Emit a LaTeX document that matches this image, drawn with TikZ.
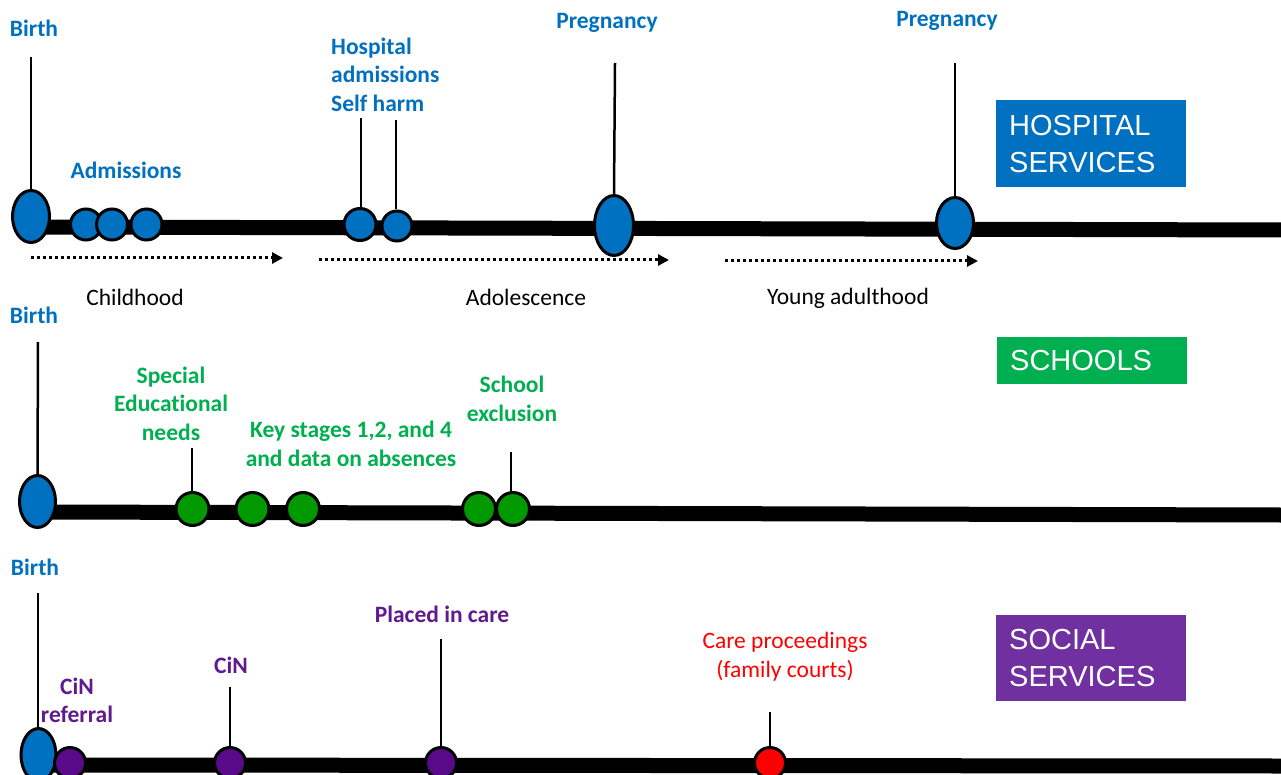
\documentclass[tikz,border=0pt]{standalone}
\usepackage{fontspec}
\setmainfont{Carlito}[Ligatures=NoCommon]
\newfontfamily\arialf{Liberation Sans}
\usetikzlibrary{shapes.geometric,arrows.meta,backgrounds}
\definecolor{hblue}{HTML}{0070C0}
\definecolor{sgreen}{HTML}{00B050}
\definecolor{cgreen}{HTML}{009900}
\definecolor{ptext}{HTML}{5F1A8E}
\definecolor{pfill}{HTML}{580A88}
\definecolor{sbox}{HTML}{7030A0}
\definecolor{cred}{HTML}{FF0000}
\begin{document}
\begin{tikzpicture}[x=1pt,y=-1pt,
 timeline/.style={line width=15pt},
 stem/.style={line width=2.5pt},
 evell/.style={ellipse, draw=black, line width=3pt, fill=hblue, inner sep=0pt},
 evcirc/.style={circle, draw=black, line width=3pt, inner sep=0pt, minimum size=32pt},
 lbl/.style={font=\fontsize{23.5}{28.5}\selectfont\bfseries, inner sep=0pt, align=center},
 phase/.style={font=\fontsize{23.5}{28.5}\selectfont, inner sep=0pt},
 period/.style={line width=3pt, dash pattern=on 3pt off 3pt, -{Triangle[length=11pt,width=11pt]}},
 sbx/.style={rectangle, anchor=north west, inner xsep=13pt, inner ysep=0pt, text width=164pt, minimum width=190pt, align=left, text=white, font=\arialf\fontsize{29}{37}\selectfont}
]
\useasboundingbox (0,0) rectangle (1281,775);

% ---------- Row 1: hospital ----------
\coordinate (tl1a) at (31,227);
\coordinate (tl1b) at (1281,230);
\draw[timeline] (tl1a) -- (tl1b);

\node[evell, minimum width=37pt, minimum height=52pt] (birth1) at (31,216.5) {};
\node[evcirc, fill=hblue, minimum size=31pt] (adm1) at (86,224.5) {};
\node[evcirc, fill=hblue, minimum size=31pt] (adm2) at (112,224.5) {};
\node[evcirc, fill=hblue, minimum size=31pt] (adm3) at (146.5,224.5) {};
\node[evcirc, fill=hblue, minimum size=32pt] (hosp1) at (360,224.5) {};
\node[evcirc, fill=hblue, minimum size=30pt] (hosp2) at (397,226) {};
\node[evell, minimum width=39pt, minimum height=60pt] (preg1) at (614,225.5) {};
\node[evell, minimum width=37pt, minimum height=51pt] (preg2) at (955,223) {};

\coordinate (s1a) at (31,57);
\coordinate (s1b) at (361,118);
\coordinate (s1c) at (396,120);
\coordinate (s1d) at (615,63);
\coordinate (s1e) at (955,63);
\draw[stem] (s1a) -- (birth1.north);
\draw[stem] (s1b) -- (s1b |- hosp1.north);
\draw[stem] (s1c) -- (s1c |- hosp2.north);
\draw[stem] (s1d) -- (preg1.north);
\draw[stem] (s1e) -- (preg2.north);

\node[lbl, text=hblue] (tb1) at (34,28) {Birth};
\node[lbl, text=hblue] (tadm) at (126,170) {Admissions};
\node[lbl, text=hblue, align=left, anchor=west] (thosp) at (331,74.5) {Hospital\\admissions\\Self harm};
\node[lbl, text=hblue] (tpreg1) at (607,23) {Pregnancy};
\node[lbl, text=hblue] (tpreg2) at (947,21) {Pregnancy};

\coordinate (a1s) at (31,258);  \coordinate (a1e) at (283,258);
\coordinate (a2s) at (319,260); \coordinate (a2e) at (669,260);
\coordinate (a3s) at (725,261); \coordinate (a3e) at (978,261);
\draw[period] (a1s) -- (a1e);
\draw[period] (a2s) -- (a2e);
\draw[period] (a3s) -- (a3e);

\node[phase] (pch) at (135,297) {Childhood};
\node[phase] (pad) at (526,297) {Adolescence};
\node[phase] (pya) at (848,298) {Young adulthood};

\node[sbx, fill=hblue, minimum height=87pt] (bhosp) at (996,100) {HOSPITAL\\SERVICES};

% ---------- Row 2: schools ----------
\coordinate (tl2a) at (38,512);
\coordinate (tl2b) at (1281,515);
\draw[timeline] (tl2a) -- (tl2b);

\node[evell, minimum width=36pt, minimum height=52pt] (birth2) at (37.5,501.5) {};
\node[evcirc, fill=cgreen, minimum size=33pt] (sen) at (192.5,509) {};
\node[evcirc, fill=cgreen, minimum size=33pt] (ks1) at (252.5,509) {};
\node[evcirc, fill=cgreen, minimum size=33pt] (ks2) at (303,509) {};
\node[evcirc, fill=cgreen, minimum size=33pt] (ex1) at (479,509) {};
\node[evcirc, fill=cgreen, minimum size=33pt] (ex2) at (513,509) {};

\coordinate (s2a) at (38,342);
\coordinate (s2b) at (192,448);
\coordinate (s2c) at (511,452);
\draw[stem] (s2a) -- (birth2.north);
\draw[stem] (s2b) -- (s2b |- sen.north);
\draw[stem] (s2c) -- (s2c |- ex2.north);

\node[lbl, text=hblue] (tb2) at (34,315) {Birth};
\node[lbl, text=sgreen] (tsen) at (171,403.5) {Special\\Educational\\needs};
\node[lbl, text=sgreen] (tks) at (351,444) {Key stages 1,2, and 4\\and data on absences};
\node[lbl, text=sgreen] (tex) at (512,399) {School\\exclusion};

\node[sbx, fill=sgreen, minimum height=47pt] (bsch) at (997,337) {SCHOOLS};

% ---------- Row 3: social services ----------
\coordinate (tl3a) at (38,765);
\coordinate (tl3b) at (1281,766);
\draw[timeline] (tl3a) -- (tl3b);

\node[evell, minimum width=35pt, minimum height=53pt] (birth3) at (38.5,755) {};
\node[evcirc, fill=pfill, minimum size=31pt] (cinr) at (70,763) {};
\node[evcirc, fill=pfill, minimum size=31pt] (cin) at (230,763) {};
\node[evcirc, fill=pfill, minimum size=31pt] (pic) at (441,763) {};
\node[evcirc, fill=cred, minimum size=31pt] (cp) at (770,763) {};

\coordinate (s3a) at (38,593);
\coordinate (s3b) at (230,687);
\coordinate (s3c) at (441,639);
\coordinate (s3d) at (770,712);
\draw[stem] (s3a) -- (s3a |- birth3.north);
\draw[stem] (s3b) -- (cin.north);
\draw[stem] (s3c) -- (pic.north);
\draw[stem] (s3d) -- (cp.north);

\node[lbl, text=hblue] (tb3) at (35,567) {Birth};
\node[lbl, text=ptext] (tcinr) at (77,700.5) {CiN\\referral};
\node[lbl, text=ptext] (tcin) at (231,665) {CiN};
\node[lbl, text=ptext] (tpic) at (442,614) {Placed in care};
\node[phase, text=cred, align=center] (tcp) at (785,656.5) {Care proceedings\\(family courts)};

\node[sbx, fill=sbox, minimum height=86pt] (bsoc) at (996,615) {SOCIAL\\SERVICES};
\end{tikzpicture}
\end{document}
